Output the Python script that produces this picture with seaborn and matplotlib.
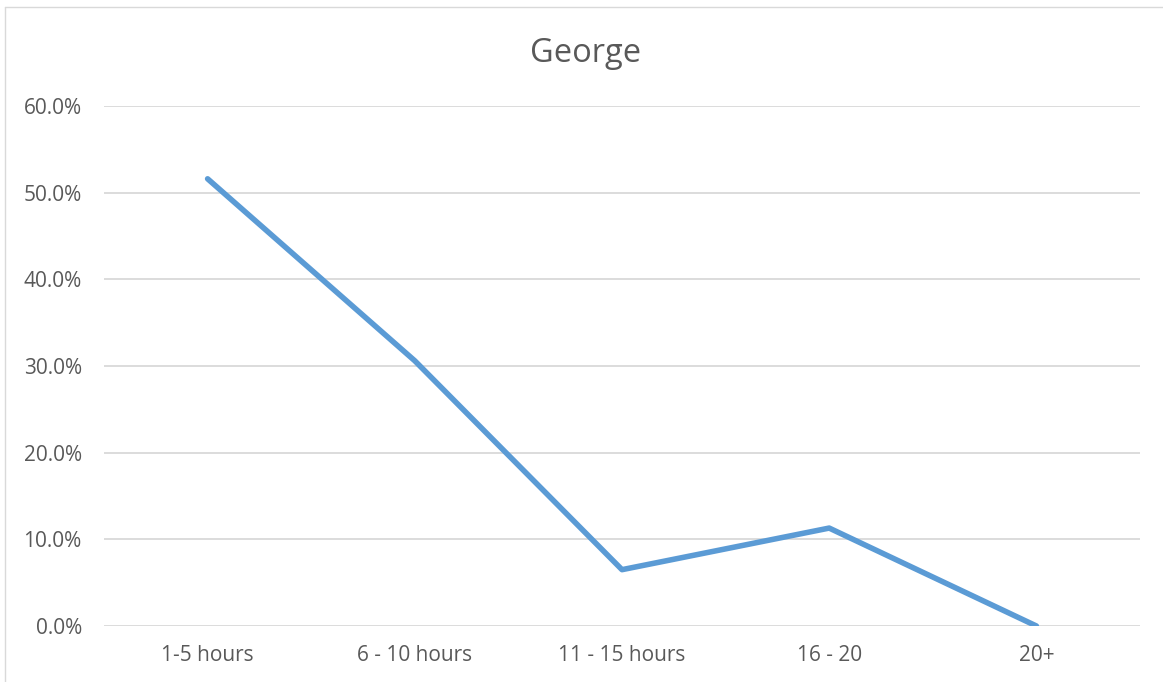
import matplotlib
matplotlib.use("Agg")
import matplotlib.pyplot as plt
import seaborn as sns
import pandas as pd
from matplotlib.ticker import PercentFormatter
from matplotlib.lines import Line2D

# hours spent, share of answers
hours = ["1-5 hours", "6 - 10 hours", "11 - 15 hours", "16 - 20", "20+"]
share = [0.516, 0.306, 0.065, 0.113, 0.0]
y_ticks = [0.0, 0.1, 0.2, 0.3, 0.4, 0.5, 0.6]

df = pd.DataFrame({"hours": hours, "share": share})

sns.set_style("white")
plt.rcParams['font.family'] = ['Open Sans', 'DejaVu Sans']
grey = "#595959"

fig = plt.figure(figsize=(11.63, 6.82), dpi=100)
ax = fig.add_axes([104 / 1163, 1 - 626 / 682, (1140 - 104) / 1163, (626 - 106) / 682])

sns.lineplot(data=df, x="hours", y="share", ax=ax, color="#5b9bd5",
             linewidth=4, sort=False, solid_capstyle="round")

ax.set_xlim(-0.5, 4.5)
ax.set_ylim(0, 0.6)
ax.set_yticks(y_ticks)
ax.yaxis.set_major_formatter(PercentFormatter(1.0, decimals=1))
ax.grid(axis="y", color="#d9d9d9", linewidth=1.3)
ax.set_axisbelow(True)
for s in ax.spines.values():
    s.set_visible(False)
ax.tick_params(axis="both", length=0, labelsize=15, labelcolor=grey)
ax.tick_params(axis="y", pad=16)
ax.tick_params(axis="x", pad=14)
ax.set_xlabel("")
ax.set_ylabel("")

fig.text(586 / 1163, 1 - 53 / 682, "George", ha="center", va="center",
         fontsize=23.5, color=grey)

# chart frame
fig.add_artist(Line2D([4.5 / 1163, 4.5 / 1163], [0, 1 - 7 / 682],
                      transform=fig.transFigure, color="#d9d9d9", linewidth=1))
fig.add_artist(Line2D([4.5 / 1163, 1], [1 - 7 / 682, 1 - 7 / 682],
                      transform=fig.transFigure, color="#d9d9d9", linewidth=1))

fig.savefig("out.png", dpi=100)
